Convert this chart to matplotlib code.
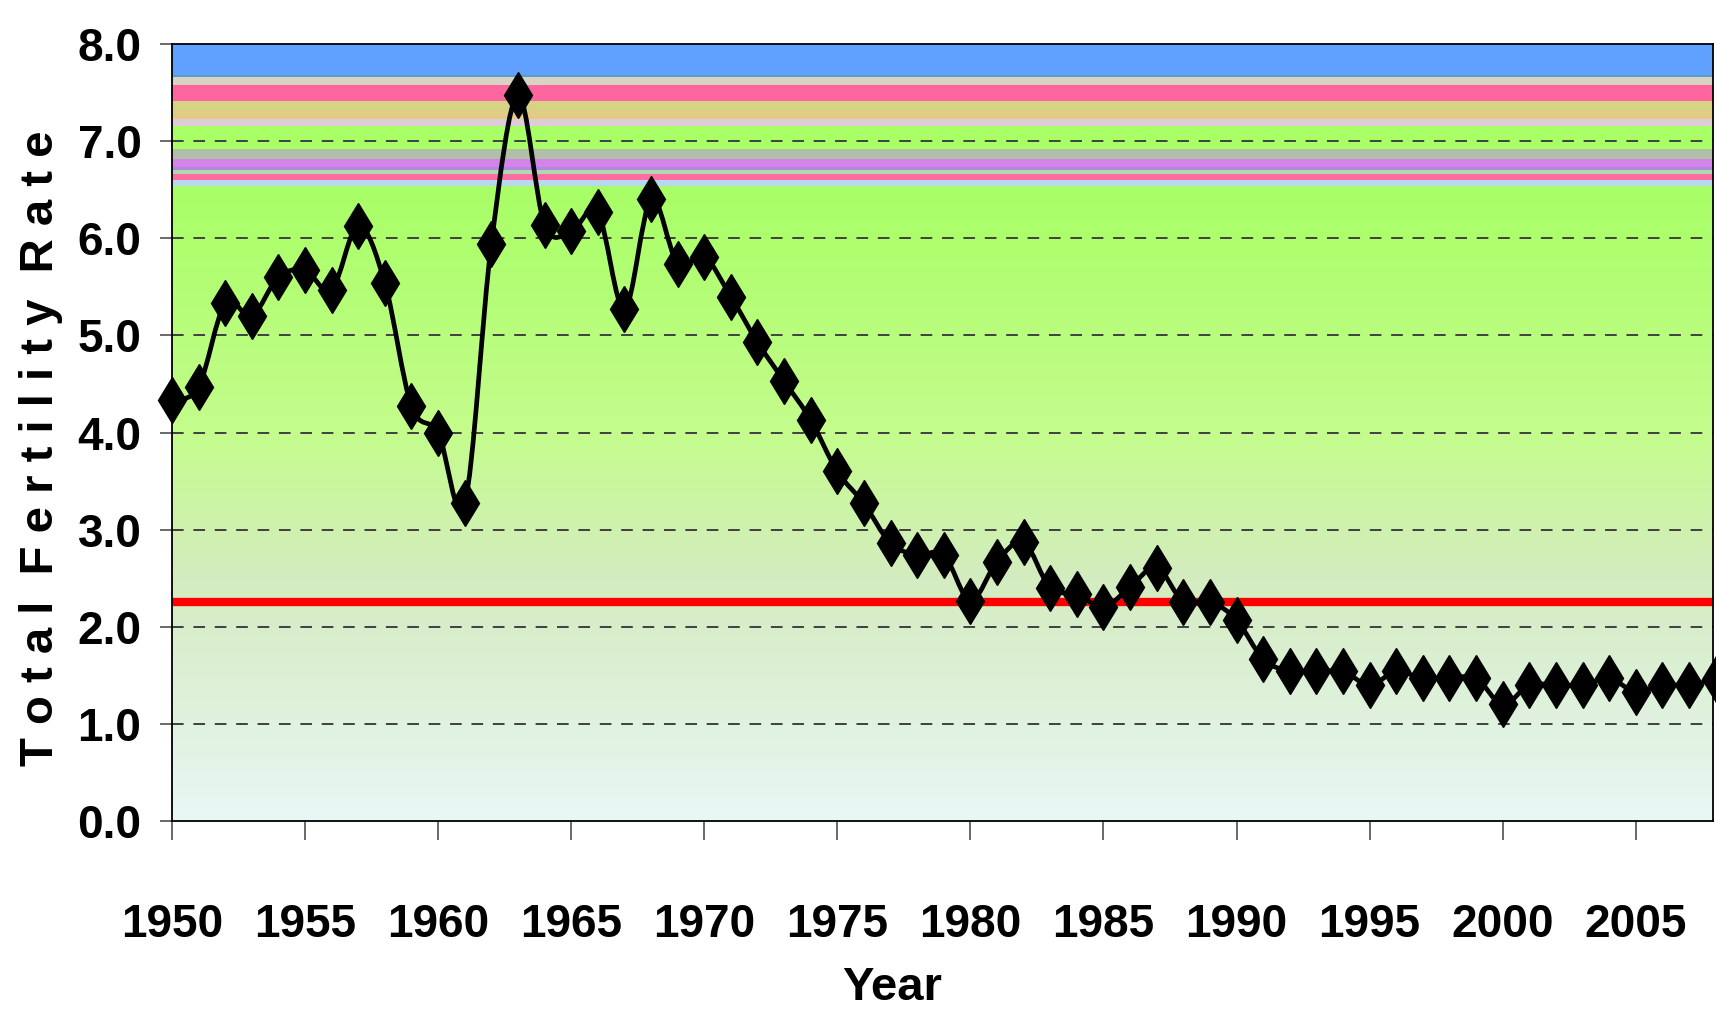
import matplotlib.pyplot as plt
import numpy as np
from matplotlib.path import Path
from matplotlib.patches import PathPatch
from matplotlib.colors import LinearSegmentedColormap

plt.rcParams['font.family'] = ['Liberation Sans', 'DejaVu Sans']
plt.rcParams['font.weight'] = 'bold'

# total fertility rate, one value per year
years = list(range(1950, 2009))
tfr = [4.33, 4.47, 5.33, 5.20, 5.60, 5.67, 5.47, 6.13, 5.54, 4.27,
       4.00, 3.27, 5.94, 7.47, 6.14, 6.07, 6.27, 5.27, 6.40, 5.74,
       5.81, 5.40, 4.93, 4.53, 4.13, 3.60, 3.27, 2.86, 2.74, 2.74,
       2.27, 2.67, 2.87, 2.40, 2.34, 2.20, 2.41, 2.61, 2.26, 2.26,
       2.07, 1.67, 1.54, 1.54, 1.54, 1.40, 1.54, 1.47, 1.47, 1.47,
       1.20, 1.40, 1.40, 1.40, 1.47, 1.33, 1.40, 1.40, 1.46]
replacement_level = 2.25

x_ticks = list(range(1950, 2006, 5))
y_ticks = [0, 1, 2, 3, 4, 5, 6, 7, 8]

# coloured stripes across the top of the plot area
band_bottom = [7.68, 7.66, 7.58, 7.41, 7.32, 7.23, 7.16, 6.92, 6.82, 6.73, 6.70, 6.66, 6.60, 6.54]
band_top = [8.00, 7.68, 7.66, 7.58, 7.41, 7.32, 7.23, 7.16, 6.92, 6.82, 6.73, 6.70, 6.66, 6.60]
band_color = ['#60a0ff', '#5a9ec8', '#d8d4c4', '#ff66a0', '#d6d484', '#e0cc84', '#e0ccd8',
              '#a8ff66', '#b0c0a8', '#d484e8', '#b088e0', '#b0d8b0', '#ff6ca0', '#b8d8f0']


def smooth_path(x, y):
  # excel-style smoothed line: bezier segments through every point
  x = np.asarray(x, float)
  y = np.asarray(y, float)
  n = len(x)
  verts = [(x[0], y[0])]
  codes = [Path.MOVETO]
  for i in range(n - 1):
    a = max(i - 1, 0)
    b = min(i + 2, n - 1)
    c1 = (x[i] + (x[i + 1] - x[a]) / 6, y[i] + (y[i + 1] - y[a]) / 6)
    c2 = (x[i + 1] - (x[b] - x[i]) / 6, y[i + 1] - (y[b] - y[i]) / 6)
    verts += [c1, c2, (x[i + 1], y[i + 1])]
    codes += [Path.CURVE4] * 3
  return Path(verts, codes)


def main():
  fig = plt.figure(figsize=[17.16, 10.14], dpi=100)
  ax = fig.add_axes([0.1002, 0.1903, 0.898, 0.7663])
  x0, x1 = 1950, 2007.9
  ax.set_xlim(x0, x1)
  ax.set_ylim(0, 8)

  # background gradient below the stripes
  cmap = LinearSegmentedColormap.from_list('bg', [
      (0.0, '#e8f8f6'), (0.15, '#e0f2e0'), (0.38, '#d4ecc0'),
      (0.61, '#c4fc8c'), (1.0, '#a8ff66')])
  grad = np.linspace(0, 1, 256).reshape(-1, 1)
  ax.imshow(grad, extent=[x0, x1, 0, band_bottom[-1]], origin='lower',
            aspect='auto', cmap=cmap, zorder=0)
  for lo, hi, c in zip(band_bottom, band_top, band_color):
    ax.axhspan(lo, hi, color=c, lw=0, zorder=0.5)

  for v in y_ticks[1:-1]:
    ax.axhline(v, color='#404040', lw=1.4, dashes=(6, 5), zorder=1)

  ax.axhline(replacement_level, color='#ff0000', lw=6, zorder=2)

  ax.add_patch(PathPatch(smooth_path(years, tfr), fill=False, edgecolor='black',
                         lw=3.4, joinstyle='round', capstyle='round', zorder=4))
  ax.plot(years, tfr, ls='none', marker='d', ms=23, color='black', zorder=5,
          clip_on=False)

  ax.set_yticks(y_ticks)
  ax.set_yticklabels(['%.1f' % v for v in y_ticks], fontsize=33, fontweight='bold')
  ax.set_xticks(x_ticks)
  ax.set_xticklabels([str(v) for v in x_ticks], fontsize=33, fontweight='bold')
  ax.tick_params(axis='y', length=9, width=1.2, color='#505050', pad=13)
  ax.tick_params(axis='x', length=14, width=1.2, color='#505050', pad=45)
  for s in ax.spines.values():
    s.set_linewidth(1.3)
    s.set_color('black')

  fig.text(0.024, 0.558, 'T o t a l  F e r t i l i t y  R a t e', rotation=90,
           ha='center', va='center', fontsize=34, fontweight='bold')
  fig.text(0.52, 0.014, 'Year', ha='center', va='baseline', fontsize=34,
           fontweight='bold')

  fig.savefig('out.png', dpi=100)


if __name__ == '__main__':
  main()
